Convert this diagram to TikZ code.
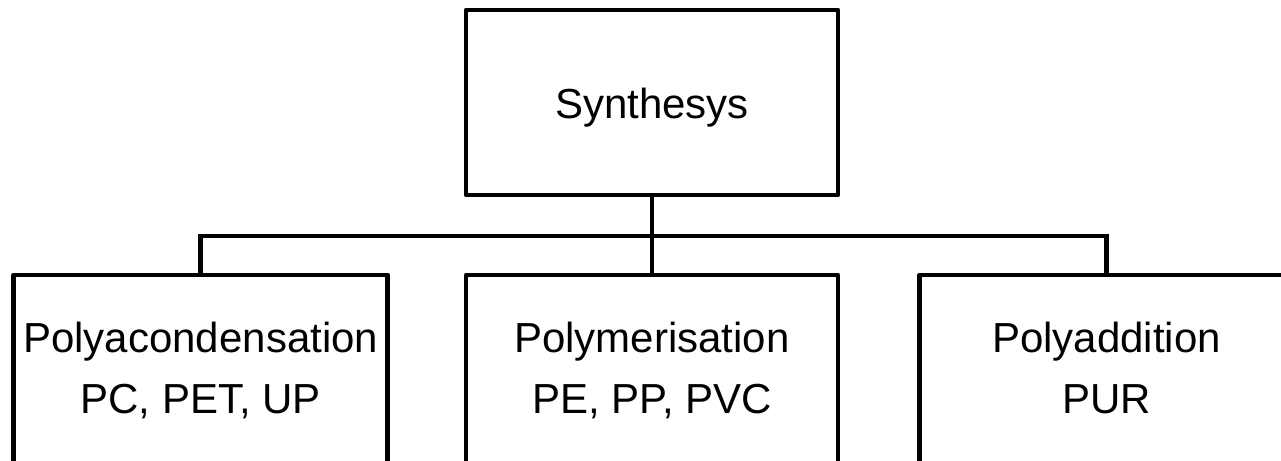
\documentclass[tikz,border=0pt]{standalone}
\usepackage{fontspec}
\setmainfont{Liberation Sans}
\begin{document}
\begin{tikzpicture}[x=1pt,y=-1pt,
  box/.style={draw=black,line width=4.8pt,fill=white,rectangle,inner sep=0pt,line join=round},
  lbl/.style={inner sep=0pt,anchor=base,font=\fontsize{42}{61}\selectfont},
  conn/.style={draw=black,line width=4.8pt,line join=miter}]
\useasboundingbox (0,0) rectangle (1281,460);
\fill[white] (0,0) rectangle (1281,460);
\clip (0,0) rectangle (1281,460);
% boxes
\node[box,minimum width=372pt,minimum height=185pt] (top) at (652,102.5) {};
\node[box,minimum width=374pt,minimum height=240pt] (left) at (200.7,395) {};
\node[box,minimum width=372pt,minimum height=240pt] (mid) at (652,395) {};
\node[box,minimum width=374pt,minimum height=240pt] (right) at (1106.5,395) {};
\coordinate (bus) at (652,236);
% connectors
\draw[conn] (top.south) -- (mid.north);
\draw[conn] (left.north) |- (bus) -| (right.north);
% labels
\node[lbl] (ttop) at (652,118) {Synthesys};
\node[lbl] (tleft1) at (200.7,352) {Polyacondensation};
\node[lbl] (tleft2) at (200.7,413) {PC, PET, UP};
\node[lbl] (tmid1) at (652,352) {Polymerisation};
\node[lbl] (tmid2) at (652,413) {PE, PP, PVC};
\node[lbl] (tright1) at (1106.5,352) {Polyaddition};
\node[lbl] (tright2) at (1106.5,413) {PUR};
\end{tikzpicture}
\end{document}
